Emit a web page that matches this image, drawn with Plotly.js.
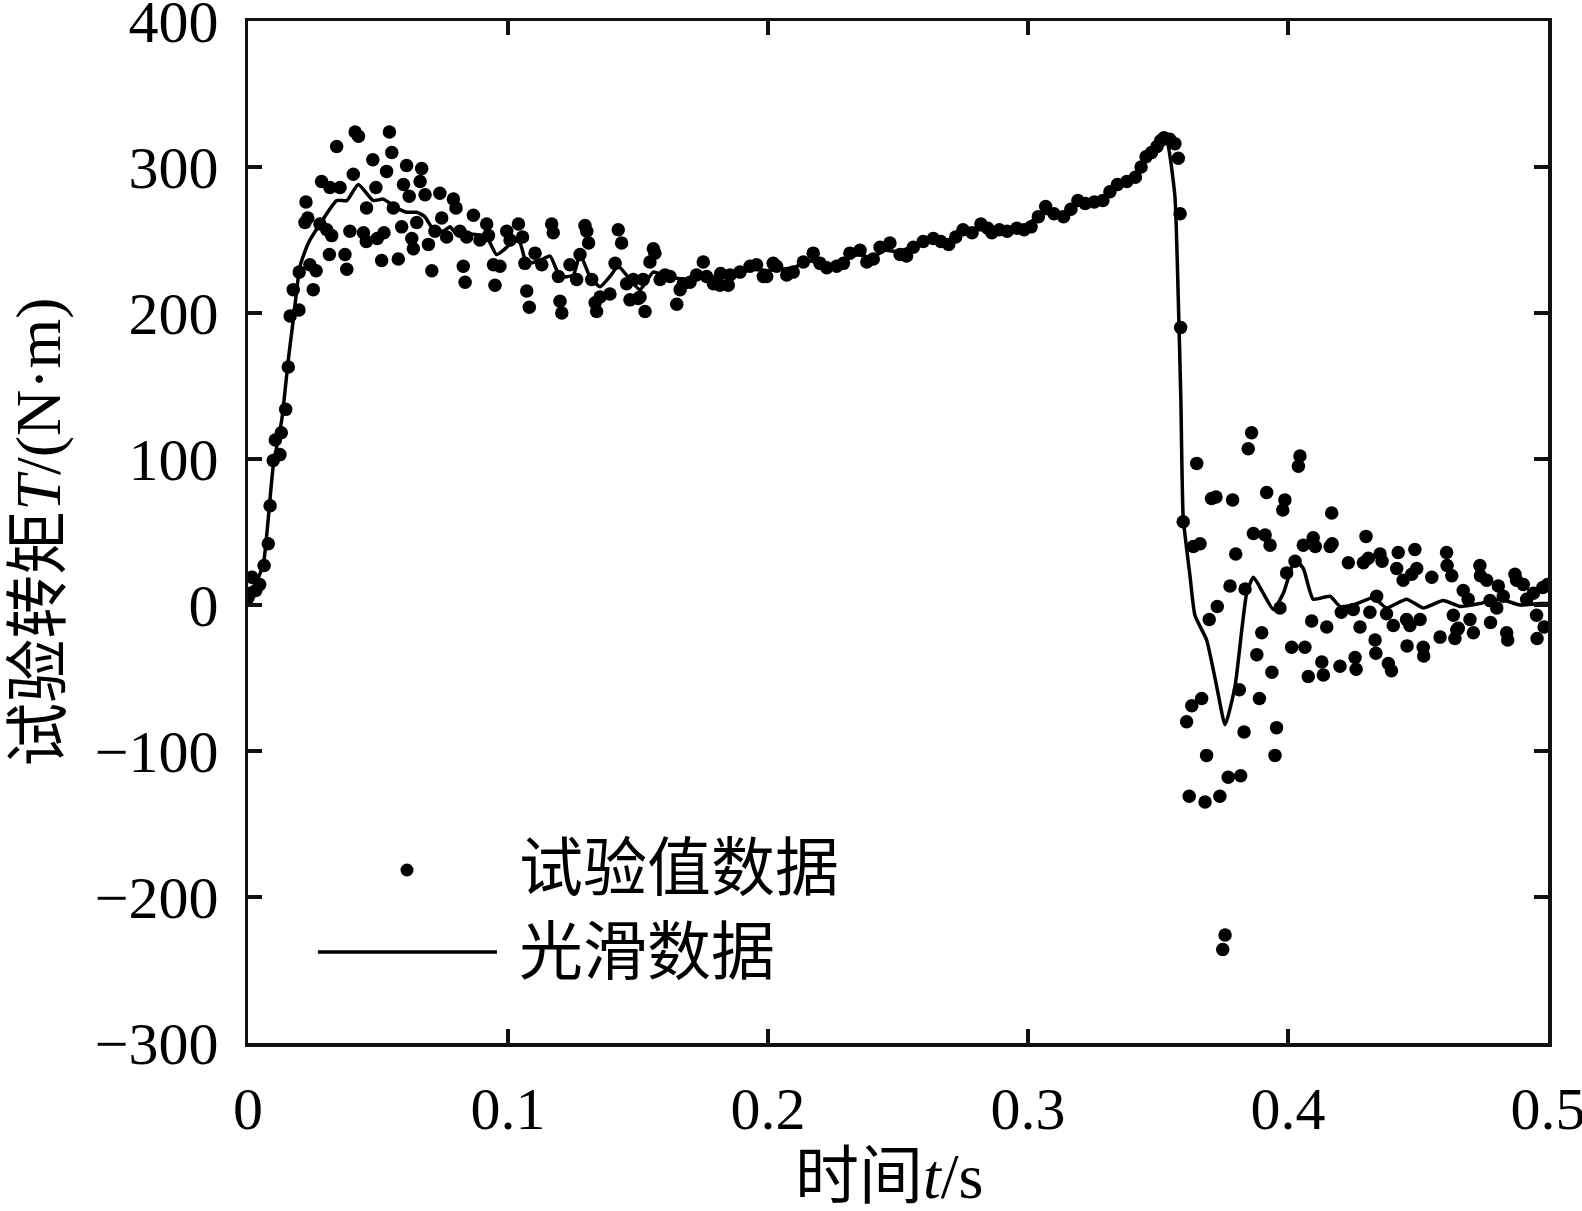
<!DOCTYPE html>
<html>
<head>
<meta charset="utf-8">
<script src="https://cdn.plot.ly/plotly-3.0.1.min.js"></script>
<style>html,body{margin:0;padding:0;background:#fff;}#chart{width:1582px;height:1211px;}</style>
</head>
<body>
<div id="chart"></div>
<script>
// 试验值数据 (experimental points): time t (s), torque T (N·m)
var expT = [
0.0,0.0008,0.0015,0.003,0.0045,0.0062,0.0078,0.0085,0.0097,0.0105,0.0123,0.0128,0.0145,0.0155,0.0162,0.0174,0.0196,0.0197,0.0219,0.0223,
0.0230,0.0238,0.0251,0.0262,0.0277,0.0283,0.0303,0.0313,0.0315,0.0322,0.0341,0.0354,0.0373,0.038,0.0392,0.0405,0.0412,0.0425,0.0444,0.0455,
0.0456,0.048,0.0492,0.0497,0.0514,0.0523,0.0533,0.0544,0.0553,0.0559,0.0578,0.0591,0.0598,0.061,0.062,0.063,0.0636,0.0649,0.0662,0.0668,
0.0681,0.0694,0.0707,0.0719,0.0738,0.0745,0.0764,0.079,0.08,0.0815,0.0828,0.0835,0.0841,0.0867,0.0892,0.0918,0.0925,0.0944,0.095,0.0969,
0.0995,0.1008,0.104,0.1056,0.1065,0.1072,0.1082,0.1104,0.113,0.1168,0.1174,0.1194,0.12,0.1207,0.1238,0.1264,0.1277,0.1296,0.1303,0.131,
0.1322,0.1335,0.1341,0.1354,0.1392,0.1412,0.1424,0.1437,0.1456,0.1469,0.1482,0.1501,0.1508,0.152,0.1527,0.1546,0.1559,0.1565,0.1585,0.1604,
0.1623,0.1649,0.1662,0.1674,0.17,0.1725,0.1751,0.1764,0.179,0.1815,0.1818,0.1847,0.1854,0.1892,0.1931,0.1956,0.1982,0.1995,0.202,0.2033,
0.2072,0.2097,0.2136,0.2174,0.22,0.2226,0.2264,0.229,0.2315,0.2354,0.238,0.2405,0.2431,0.2469,0.2508,0.2533,0.2559,0.2597,0.2636,0.2665,
0.2695,0.2722,0.275,0.2785,0.2819,0.2845,0.2861,0.289,0.292,0.2957,0.2985,0.3012,0.304,0.3068,0.31,0.3137,0.3165,0.3192,0.322,0.3255,
0.3288,0.3315,0.3344,0.338,0.3413,0.3435,0.3454,0.3475,0.3496,0.351,0.3523,0.3545,0.3565,0.3578,0.3585,0.3587,0.3597,0.361,0.362,0.363,
0.3636,0.3649,0.3662,0.3668,0.3681,0.3687,0.3697,0.3706,0.3723,0.3728,0.3738,0.3749,0.3758,0.377,0.3777,0.3787,0.3799,0.3813,0.3818,0.3831,
0.3835,0.3847,0.386,0.3867,0.388,0.389,0.3899,0.3912,0.3918,0.3931,0.3938,0.395,0.3956,0.3969,0.398,0.3988,0.3995,0.4014,0.4027,0.404,
0.4046,0.4059,0.4065,0.4078,0.4091,0.4097,0.4105,0.413,0.4136,0.4149,0.4162,0.4168,0.417,0.42,0.4205,0.4232,0.4251,0.4258,0.4262,0.4277,
0.429,0.43,0.4309,0.4315,0.4335,0.4338,0.4341,0.4354,0.4362,0.4379,0.4386,0.4398,0.4405,0.4418,0.4424,0.4443,0.4456,0.4458,0.4469,0.4476,
0.4488,0.4495,0.4508,0.452,0.4522,0.4553,0.4585,0.461,0.4612,0.463,0.4636,0.4642,0.4649,0.4655,0.4674,0.4693,0.47,0.4713,0.4738,0.474,
0.4764,0.4777,0.4779,0.4803,0.4809,0.4828,0.4841,0.4845,0.4873,0.4879,0.4905,0.4918,0.4944,0.4956,0.4958,0.498,0.4985,0.4998
];
var expTorque = [
5,8,19,10,14,27,42,68,99,113,103,118,134,163,198,216,202,228,262,276,
265,233,216,229,261,290,257,240,286,253,314,286,240,230,256,295,324,321,255,249,
272,305,286,251,236,255,297,324,310,272,237,259,288,301,280,251,244,262,290,299,
281,247,229,256,282,265,252,278,272,256,232,221,252,267,250,261,253,233,219,232,
256,250,261,252,234,215,204,241,233,261,255,225,208,200,233,223,240,260,256,248,
223,207,201,211,213,234,257,248,220,209,223,210,211,223,201,235,244,241,223,226,
225,206,216,220,221,226,235,225,220,219,227,219,226,228,232,233,225,225,234,232,
226,228,235,241,234,231,232,234,241,243,235,237,245,248,240,239,245,249,251,249,
247,252,257,255,261,258,255,257,256,258,257,259,266,273,268,266,271,277,275,276,
277,283,288,290,293,300,307,310,314,318,320,319,316,306,268,190,57,-80,-131,-69,
40,97,42,-64,-135,-103,-10,73,74,-1,-131,-236,-226,-118,13,72,35,-58,-117,-87,
11,107,118,49,-34,-64,-19,48,77,41,-46,-103,-84,-2,65,72,22,-29,30,95,
102,41,-29,-49,-11,46,40,-39,-48,-15,40,63,42,-42,-5,29,-3,-36,-44,-15,
29,47,32,-5,-24,-33,6,35,30,-6,-40,-45,-14,25,36,17,-10,-28,-14,21,
38,25,-10,-29,-35,19,-22,36,27,20,-7,-23,-17,-16,10,4,-10,-19,27,20,
17,3,-12,-2,13,6,-19,-24,21,17,14,4,8,-7,-23,12,-15,14
];
// 光滑数据 (smoothed curve)
var smoothT = [
0,0.003,0.0059,0.0097,0.013,0.0155,0.0174,0.02,0.0232,0.0277,0.0341,0.038,0.0424,0.0482,0.052,0.0572,0.061,0.0649,0.068,0.0713,
0.0751,0.0777,0.0803,0.0867,0.0918,0.0956,0.0995,0.1021,0.1046,0.1072,0.1123,0.1162,0.12,0.1251,0.1277,0.1315,0.1354,0.1392,0.1424,0.1469,
0.1508,0.1559,0.161,0.1687,0.175,0.18,0.185,0.19,0.195,0.2,0.205,0.21,0.215,0.22,0.225,0.23,0.235,0.24,0.245,0.25,
0.255,0.26,0.265,0.27,0.275,0.28,0.285,0.29,0.295,0.3,0.305,0.31,0.315,0.32,0.325,0.33,0.335,0.34,0.345,0.3496,
0.3523,0.3537,0.3565,0.3578,0.3588,0.3597,0.3623,0.3642,0.3687,0.3726,0.3758,0.3796,0.3841,0.3867,0.3905,0.3944,0.3982,0.4027,0.4059,0.4097,
0.4162,0.42,0.4251,0.4328,0.4379,0.4456,0.452,0.4597,0.4662,0.4738,0.4815,0.4892,0.4969,0.5
];
var smoothTorque = [
8,15,28,95,127,168,195,232,248,261,277,277,288,277,278,272,269,269,266,257,
256,259,254,254,252,240,245,250,248,234,236,239,225,226,240,225,218,225,232,223,
216,228,225,223,227,224,225,228,230,229,230,231,236,234,233,237,240,238,243,242,
245,248,249,249,255,257,257,257,258,261,268,268,270,275,277,280,287,292,305,314,
319,316,280,210,140,60,20,-7,-24,-56,-82,-56,8,19,8,-3,8,31,25,4,
6,-1,0,5,-2,4,-2,3,-1,1,4,0,1,1
];
var xTicks = [0, 0.1, 0.2, 0.3, 0.4, 0.5];
var xTickText = ['0', '0.1', '0.2', '0.3', '0.4', '0.5'];
var yTicks = [-300, -200, -100, 0, 100, 200, 300, 400];
var yTickText = ['\u2212300', '\u2212200', '\u2212100', '0', '100', '200', '300', '400'];
var legendNames = ['试验值数据', '光滑数据'];
var xTitle = '时间<i>t</i>/s';
var yTitle = '试验转矩<i>T</i>/(N·m)';

var serif = 'Liberation Serif, Times New Roman, Noto Sans CJK SC, serif';

var traces = [
  {x: expT, y: expTorque, type: 'scatter', mode: 'markers', name: legendNames[0],
   marker: {color: '#000', size: 13.5}, showlegend: false, cliponaxis: true},
  {x: smoothT, y: smoothTorque, type: 'scatter', mode: 'lines', name: legendNames[1],
   line: {color: '#000', width: 3.5, shape: 'spline', smoothing: 0.5}, showlegend: false}
];

var axisCommon = {
  showgrid: false, zeroline: false, showline: true, linecolor: '#111', linewidth: 3.5,
  mirror: 'ticks', ticks: 'inside', ticklen: 14, tickwidth: 3.5, tickcolor: '#111',
  ticklabeloverflow: 'allow',
  tickfont: {family: serif, size: 60, color: '#000'}
};

var layout = {
  width: 1582, height: 1211,
  margin: {l: 248, r: 34, t: 21, b: 168, pad: 0},
  paper_bgcolor: '#fff', plot_bgcolor: '#fff',
  xaxis: Object.assign({}, axisCommon, {
    range: [0, 0.5], tickmode: 'array', tickvals: xTicks, ticktext: xTickText,
    ticklabelstandoff: 10
  }),
  yaxis: Object.assign({}, axisCommon, {
    range: [-300, 400], tickmode: 'array', tickvals: yTicks, ticktext: yTickText,
    ticklabelstandoff: 14,
    title: {text: yTitle, font: {family: serif, size: 64, color: '#000'}, standoff: 14}
  }),
  shapes: [
    {type: 'circle', xref: 'paper', yref: 'paper', x0: 0.1173, x1: 0.1273, y0: 0.1629, y1: 0.1756,
     fillcolor: '#000', line: {width: 0}},
    {type: 'line', xref: 'paper', yref: 'paper', x0: 0.0538, x1: 0.1915, y0: 0.089, y1: 0.089,
     line: {color: '#000', width: 3.5}}
  ],
  annotations: [
    {xref: 'paper', yref: 'paper', x: 0.2069, y: 0.1712, xanchor: 'left', yanchor: 'middle',
     text: legendNames[0], showarrow: false, font: {family: serif, size: 64, color: '#000'}},
    {xref: 'paper', yref: 'paper', x: 0.2069, y: 0.089, xanchor: 'left', yanchor: 'middle',
     text: legendNames[1], showarrow: false, font: {family: serif, size: 64, color: '#000'}},
    {xref: 'paper', yref: 'paper', x: 0.493, y: -0.1311, xanchor: 'center', yanchor: 'middle',
     text: xTitle, showarrow: false, font: {family: serif, size: 64, color: '#000'}}
  ]
};

Plotly.newPlot('chart', traces, layout, {displayModeBar: false, staticPlot: true});
</script>
</body>
</html>
